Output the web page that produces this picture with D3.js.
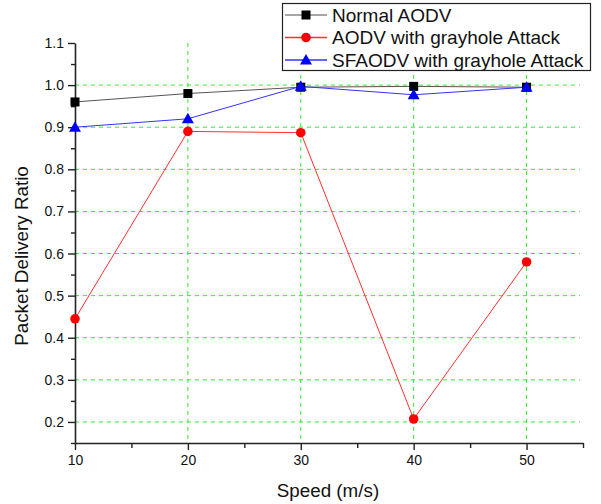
<!DOCTYPE html>
<html>
<head>
<meta charset="utf-8">
<script src="https://cdn.jsdelivr.net/npm/d3@7"></script>
<style>
  html, body { margin: 0; padding: 0; background: #fff; }
  svg { display: block; font-family: Arial, "Liberation Sans", sans-serif; }
</style>
</head>
<body>
<svg id="chart" width="601" height="504"></svg>
<script>
// data
const speeds = [10, 20, 30, 40, 50];
const normalAodv = [0.960, 0.980, 0.995, 0.997, 0.995];
const grayholeAodv = [0.445, 0.890, 0.887, 0.207, 0.580];
const sfAodv = [0.900, 0.920, 0.997, 0.977, 0.995];
const yTicks = [0.2, 0.3, 0.4, 0.5, 0.6, 0.7, 0.8, 0.9, 1.0, 1.1];
const xTicks = [10, 20, 30, 40, 50];

const SERIES = [
  { name: 'Normal AODV', vals: normalAodv, line: '#555', mk: 'square', fill: '#000' },
  { name: 'AODV with grayhole Attack', vals: grayholeAodv, line: '#ff3030', mk: 'circle', fill: '#ff0000' },
  { name: 'SFAODV with grayhole Attack', vals: sfAodv, line: '#3333ff', mk: 'triangle', fill: '#0000ff' },
];

const svg = d3.select('#chart');
const x = d3.scaleLinear().domain([10, 55]).range([75, 583]);
const y = d3.scaleLinear().domain([0.15, 1.1]).range([443, 43]);
const GRID = '#33ee33';

// grid
const gG = svg.append('g');
gG.selectAll('line.h').data(yTicks.filter(v => v < 1.05)).join('line')
  .attr('x1', x(10)).attr('x2', 580).attr('y1', d => y(d)).attr('y2', d => y(d))
  .attr('stroke', GRID).attr('stroke-width', 1).attr('stroke-dasharray', '4,4');
gG.selectAll('line.v').data(xTicks.slice(1)).join('line')
  .attr('x1', d => x(d)).attr('x2', d => x(d)).attr('y1', y(1.1)).attr('y2', y(0.15))
  .attr('stroke', GRID).attr('stroke-width', 1).attr('stroke-dasharray', '4,4');

// axes
const xAxis = svg.append('g').attr('transform', `translate(0,${y(0.15)})`)
  .call(d3.axisBottom(x).tickValues(d3.range(10, 56, 5)).tickSize(6).tickSizeOuter(0)
    .tickFormat(d => d % 10 === 0 ? d : ''));
xAxis.selectAll('.tick line').attr('y2', d => d % 10 === 0 ? 7 : 5);
const yAxis = svg.append('g').attr('transform', `translate(${x(10)},0)`)
  .call(d3.axisLeft(y).tickValues(d3.range(0, 20).map(i => +(0.15 + i * 0.05).toFixed(2)))
    .tickSizeOuter(0).tickFormat(d => Math.round(d * 100) % 10 === 0 ? d.toFixed(1) : ''));
yAxis.selectAll('.tick line').attr('x2', d => Math.round(d * 100) % 10 === 0 ? -7 : -4);
[xAxis, yAxis].forEach(a => {
  a.select('.domain').attr('stroke', '#222').attr('stroke-width', 1.6);
  a.selectAll('.tick line').attr('stroke', '#222').attr('stroke-width', 1.4);
  a.selectAll('.tick text').attr('fill', '#111').attr('font-size', 14)
    .attr('font-family', 'Arial, "Liberation Sans", sans-serif');
});
xAxis.selectAll('.tick text').attr('dy', '0.71em').attr('y', 12);
yAxis.selectAll('.tick text').attr('x', -11);

svg.append('text').attr('x', 328).attr('y', 497).attr('text-anchor', 'middle')
  .attr('font-size', 18.8).attr('fill', '#111').text('Speed (m/s)');
svg.append('text').attr('transform', 'translate(28,256) rotate(-90)').attr('text-anchor', 'middle')
  .attr('font-size', 18.8).attr('fill', '#111').text('Packet Delivery Ratio');

// markers
function marker(g, kind, fill) {
  if (kind === 'square') g.append('rect').attr('x', -4.5).attr('y', -4.5).attr('width', 9).attr('height', 9).attr('fill', fill);
  else if (kind === 'circle') g.append('circle').attr('r', 4.8).attr('fill', fill);
  else g.append('path').attr('d', 'M0,-6L6,4.5L-6,4.5Z').attr('fill', fill);
}

const line = d3.line().x((d, i) => x(speeds[i])).y(d => y(d));
SERIES.forEach(s => {
  svg.append('path').attr('d', line(s.vals)).attr('fill', 'none')
    .attr('stroke', s.line).attr('stroke-width', 1);
});
SERIES.forEach(s => {
  s.vals.forEach((v, i) => {
    const g = svg.append('g').attr('transform', `translate(${x(speeds[i])},${y(v)})`);
    marker(g, s.mk, s.fill);
  });
});

// legend
const lg = svg.append('g');
lg.append('rect').attr('x', 282.5).attr('y', 3.5).attr('width', 308).attr('height', 67)
  .attr('fill', '#fff').attr('stroke', '#222').attr('stroke-width', 1.2);
SERIES.forEach((s, i) => {
  const cy = 15 + i * 22.5;
  lg.append('line').attr('x1', 285).attr('x2', 327).attr('y1', cy).attr('y2', cy)
    .attr('stroke', s.line === '#555' ? '#888' : s.line).attr('stroke-width', 1.5);
  marker(lg.append('g').attr('transform', `translate(306,${cy})`), s.mk, s.fill);
  lg.append('text').attr('x', 332).attr('y', cy + 6.5).attr('font-size', 19).attr('fill', '#111').text(s.name);
});
</script>
</body>
</html>
